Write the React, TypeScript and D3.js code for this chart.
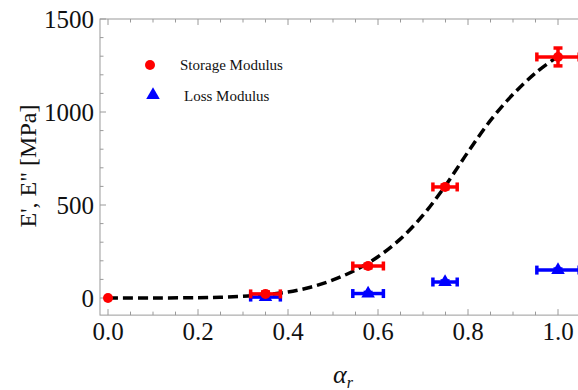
import React, { useEffect, useRef } from 'react';
import * as d3 from 'd3';

const W = 578;
const H = 390;

// alpha_r values shared by both series
const alphaR = [0.35, 0.578, 0.749, 1.0];
const alphaErr = [0.033, 0.034, 0.027, 0.047];

const storageY = [22, 172, 597, 1296];
const storageErr = [10, 10, 10, 48];
const lossY = [5, 24, 86, 150];
const lossErr = [6, 6, 6, 6];

// fitted curve
const fitX = [0, 0.1, 0.2, 0.25, 0.3, 0.35, 0.4, 0.45, 0.5, 0.55, 0.6, 0.65, 0.7, 0.75, 0.8, 0.85, 0.9, 0.95, 1.0];
const fitY = [0, 0.3, 1.5, 4, 9, 18, 32, 58, 97, 150, 222, 318, 445, 605, 785, 955, 1095, 1210, 1300];

const xTicks = [0, 0.2, 0.4, 0.6, 0.8, 1.0];
const yTicks = [0, 500, 1000, 1500];

const serif = 'Liberation Serif, Times New Roman, serif';

export default function App() {
  const ref = useRef<SVGSVGElement>(null);

  useEffect(() => {
    if (!ref.current) return;
    const svg = d3.select(ref.current);
    svg.selectAll('*').remove();

    const x = d3.scaleLinear().domain([0, 1]).range([108, 558]);
    const y = d3.scaleLinear().domain([0, 1500]).range([298, 19]);
    const left = x(-0.0178);
    const right = x(1.08);
    const top = y(1500);
    const bottom = y(-92);

    const frame = svg.append('g').attr('stroke', '#9a9a9a').attr('stroke-width', 1).attr('fill', 'none');
    frame.append('rect').attr('x', left).attr('y', top).attr('width', right - left).attr('height', bottom - top);

    // x ticks (bottom pointing up, top pointing down)
    const xMinor = d3.range(0, 1.051, 0.05);
    xMinor.forEach((v) => {
      const major = xTicks.some((t) => Math.abs(t - v) < 1e-6);
      const len = major ? 6 : 3.5;
      frame.append('line').attr('x1', x(v)).attr('x2', x(v)).attr('y1', bottom).attr('y2', bottom - len);
      frame.append('line').attr('x1', x(v)).attr('x2', x(v)).attr('y1', top).attr('y2', top + len);
    });
    const yMinor = d3.range(0, 1501, 100);
    yMinor.forEach((v) => {
      const major = yTicks.includes(v);
      const len = major ? 6 : 3.5;
      frame.append('line').attr('x1', left).attr('x2', left + len).attr('y1', y(v)).attr('y2', y(v));
    });

    svg.append('g').selectAll('text').data(xTicks).join('text')
      .attr('x', (d) => x(d)).attr('y', 340)
      .attr('text-anchor', 'middle')
      .attr('font-family', serif).attr('font-size', 25).attr('fill', '#111')
      .text((d) => d.toFixed(1));

    svg.append('g').selectAll('text').data(yTicks).join('text')
      .attr('x', 94).attr('y', (d) => y(d))
      .attr('text-anchor', 'end').attr('dominant-baseline', 'central')
      .attr('font-family', serif).attr('font-size', 25).attr('fill', '#111')
      .text((d) => String(d));

    // axis labels
    svg.append('text')
      .attr('transform', 'translate(36,166) rotate(-90)')
      .attr('text-anchor', 'middle')
      .attr('font-family', serif).attr('font-size', 24).attr('fill', '#111')
      .text('E\', E" [MPa]');
    const xl = svg.append('text')
      .attr('x', 333).attr('y', 383)
      .attr('font-family', serif).attr('font-size', 26).attr('fill', '#111')
      .attr('font-style', 'italic');
    xl.append('tspan').text('α');
    xl.append('tspan').attr('font-size', 16).attr('dy', 5).text('r');

    // fit curve
    const line = d3.line<number>()
      .x((_, i) => x(fitX[i]))
      .y((d) => y(d))
      .curve(d3.curveCatmullRom.alpha(0.5));
    svg.append('path')
      .attr('d', line(fitY) ?? '')
      .attr('fill', 'none').attr('stroke', '#000')
      .attr('stroke-width', 3.5).attr('stroke-dasharray', '10,5');

    const drawErrors = (ys: number[], yErr: number[], color: string) => {
      const g = svg.append('g').attr('stroke', color).attr('fill', 'none').attr('stroke-width', 3.5);
      alphaR.forEach((a, i) => {
        const cx = x(a);
        const cy = y(ys[i]);
        const x0 = x(a - alphaErr[i]);
        const x1 = x(a + alphaErr[i]);
        const y0 = y(ys[i] - yErr[i]);
        const y1 = y(ys[i] + yErr[i]);
        g.append('line').attr('x1', x0).attr('x2', x1).attr('y1', cy).attr('y2', cy);
        g.append('line').attr('x1', x0).attr('x2', x0).attr('y1', cy - 4.5).attr('y2', cy + 4.5);
        g.append('line').attr('x1', x1).attr('x2', x1).attr('y1', cy - 4.5).attr('y2', cy + 4.5);
        g.append('line').attr('x1', cx).attr('x2', cx).attr('y1', y0).attr('y2', y1);
        g.append('line').attr('x1', cx - 4.5).attr('x2', cx + 4.5).attr('y1', y0).attr('y2', y0);
        g.append('line').attr('x1', cx - 4.5).attr('x2', cx + 4.5).attr('y1', y1).attr('y2', y1);
      });
    };

    drawErrors(lossY, lossErr, '#0000ff');
    drawErrors(storageY, storageErr, '#ff0000');

    const tri = d3.symbol().type(d3.symbolTriangle).size(80);
    svg.append('g').selectAll('path').data(lossY).join('path')
      .attr('d', tri() ?? '')
      .attr('transform', (d, i) => `translate(${x(alphaR[i])},${y(d)})`)
      .attr('fill', '#0000ff');

    svg.append('g').selectAll('circle').data([0, ...storageY]).join('circle')
      .attr('cx', (_, i) => x([0, ...alphaR][i]))
      .attr('cy', (d) => y(d))
      .attr('r', 5)
      .attr('fill', '#ff0000');

    // legend
    const lg = svg.append('g').attr('font-family', serif).attr('font-size', 15).attr('fill', '#111');
    lg.append('circle').attr('cx', 150).attr('cy', 65).attr('r', 5).attr('fill', '#ff0000');
    lg.append('text').attr('x', 180).attr('y', 65).attr('dominant-baseline', 'central').text('Storage Modulus');
    lg.append('path').attr('d', tri() ?? '').attr('transform', 'translate(153,95)').attr('fill', '#0000ff');
    lg.append('text').attr('x', 184).attr('y', 96).attr('dominant-baseline', 'central').text('Loss Modulus');
  }, []);

  return (
    <svg ref={ref} width={W} height={H}
      style={{ position: 'absolute', left: 0, top: 0, background: '#fff' }} />
  );
}
